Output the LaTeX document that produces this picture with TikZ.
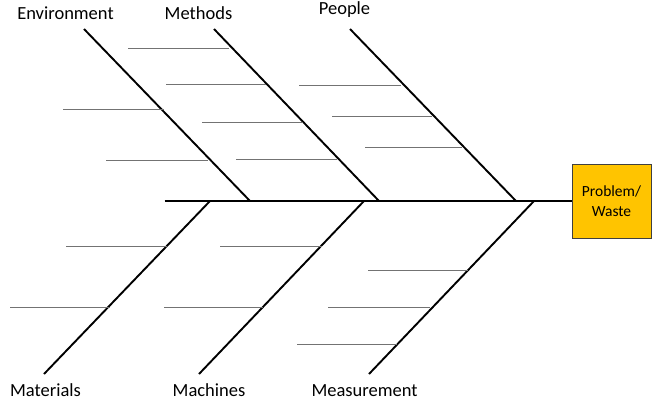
\documentclass[tikz,border=0pt]{standalone}
\usepackage{fontspec}
\setmainfont{Carlito}
\begin{document}
\begin{tikzpicture}[
  x=1pt, y=-1pt,
  font=\fontsize{18.5}{22}\selectfont,
  spine/.style={draw=black, line width=2.6pt},
  bone/.style={draw=black, line width=1.9pt},
  rib/.style={draw=black!55, line width=0.9pt},
  category/.style={anchor=base, inner sep=0pt},
  effect/.style={draw=black!75, line width=0.8pt, fill={rgb,255:red,255;green,196;blue,0},
                 align=center, font=\fontsize{15.5}{20}\selectfont,
                 minimum width=79pt, minimum height=74pt, inner sep=0pt}
]
\useasboundingbox (0,0) rectangle (652,402);

% ---- effect box ----------------------------------------------------
\node[effect] (problem) at (611.5,201) {Problem/\\Waste};

% ---- category labels -----------------------------------------------
\node[category] (environment) at (65.5,19)  {Environment};
\node[category] (methods)     at (198.5,19) {Methods};
\node[category] (people)      at (344.5,14) {People};
\node[category] (materials)   at (45.5,396) {Materials};
\node[category] (machines)    at (209,396)  {Machines};
\node[category] (measurement) at (364.5,396) {Measurement};

% ---- bone ends -----------------------------------------------------
\coordinate (tail)   at (164.5,201);
\coordinate (envtop) at (84,29);   \coordinate (envfoot) at (250,201);
\coordinate (mettop) at (214,29);  \coordinate (metfoot) at (379,201);
\coordinate (peotop) at (350,29);  \coordinate (peofoot) at (516,201);
\coordinate (matbot) at (44,374);  \coordinate (mathead) at (210,201);
\coordinate (macbot) at (199,374); \coordinate (machead) at (364,201);
\coordinate (meabot) at (369,374); \coordinate (meahead) at (534,201);

% ---- spine and bones -----------------------------------------------
\draw[spine] (tail) -- (problem.west);
\draw[bone] (envtop) -- (envfoot);
\draw[bone] (mettop) -- (metfoot);
\draw[bone] (peotop) -- (peofoot);
\draw[bone] (matbot) -- (mathead);
\draw[bone] (macbot) -- (machead);
\draw[bone] (meabot) -- (meahead);

% ---- ribs (y / from x / to x) --------------------------------------
\foreach \y/\xa/\xb in {109/63/164, 160/106/208,                 % environment
                        48/128/229, 84/166/266, 122/202/303, 159/236/337, % methods
                        85/299/401, 116/332/432, 147/365/462,    % people
                        246/66/167, 307/10/110,                  % materials
                        246/220/322, 307/164/263,                % machines
                        270/368/468, 307/328/430, 344/297/397}   % measurement
  \draw[rib] (\xa,\y) -- (\xb,\y);

\end{tikzpicture}
\end{document}
